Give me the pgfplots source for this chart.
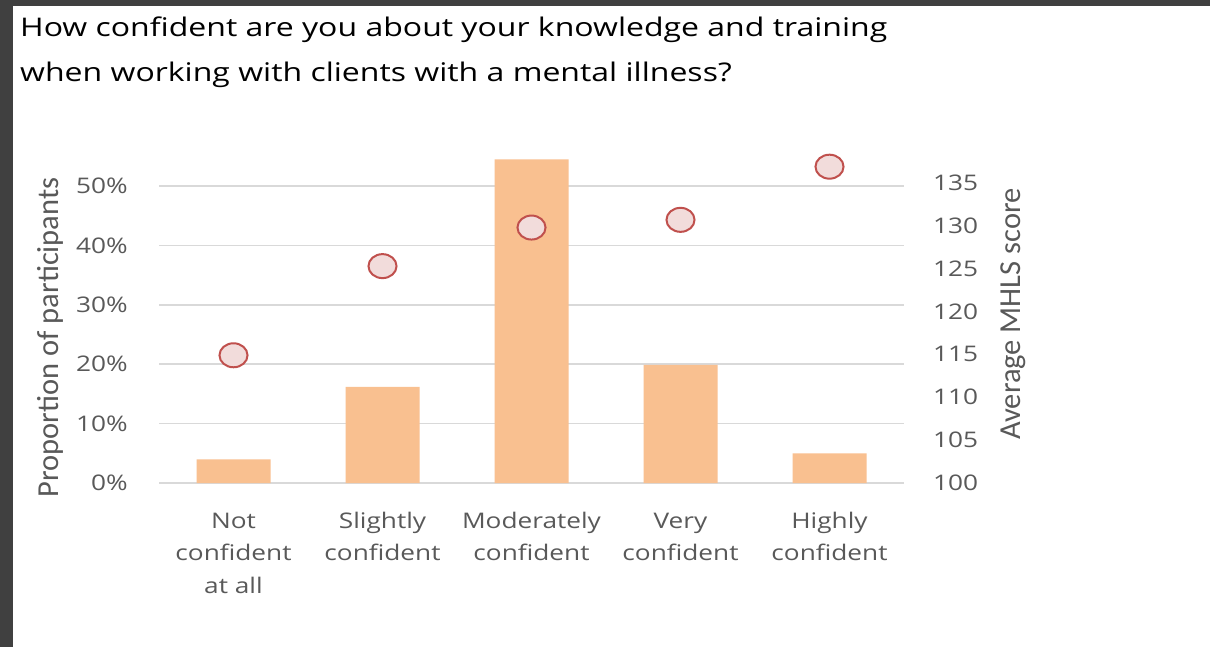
\documentclass[border=0pt]{standalone}
\usepackage{pgfplots}
\pgfplotsset{compat=1.18}
\usepackage{fontspec}
\setmainfont{Open Sans}[FakeStretch=1.22]
\newfontfamily\titlefont{Open Sans}[FakeStretch=1.245]
\newfontfamily\labfont{Carlito}
\definecolor{darkbg}{RGB}{64,64,64}
\definecolor{barc}{RGB}{249,192,144}
\definecolor{gridc}{RGB}{217,217,217}
\definecolor{tickc}{RGB}{89,89,89}
\definecolor{mkfill}{RGB}{242,220,219}
\definecolor{mkedge}{RGB}{192,80,77}
\begin{document}
\begin{tikzpicture}[x=1bp,y=1bp]
\useasboundingbox (0,0) rectangle (1210,-647);
\fill[white] (0,0) rectangle (1210,-647);
\fill[darkbg] (0,0) rectangle (1210,-6);
\fill[darkbg] (0,0) rectangle (13,-647);
\node[anchor=base west, inner sep=0, font=\titlefont\fontsize{25.7bp}{30bp}\selectfont] at (20,-37) {How confident are you about your knowledge and training};
\node[anchor=base west, inner sep=0, font=\titlefont\fontsize{25.7bp}{30bp}\selectfont] at (20,-82) {when working with clients with a mental illness?};
\begin{axis}[
  at={(159bp,-483bp)}, anchor=south west,
  width=745bp, height=332.6bp, scale only axis,
  xmin=-0.5, xmax=4.5, ymin=0, ymax=0.56,
  axis line style={draw=none}, major tick length=0,
  ytick={0,0.1,0.2,0.3,0.4,0.5},
  yticklabels={0\%,10\%,20\%,30\%,40\%,50\%},
  ymajorgrids, grid style={color=gridc, line width=1.5bp},
  xtick={0,1,2,3,4},
  xticklabels={{\rule{0pt}{17bp}Not\\confident\\at all},{\rule{0pt}{17bp}Slightly\\confident},{\rule{0pt}{17bp}Moderately\\confident},{\rule{0pt}{17bp}Very\\confident},{\rule{0pt}{17bp}Highly\\confident}},
  tick label style={font=\fontsize{21.5bp}{32.5bp}\selectfont, text=tickc},
  xticklabel style={align=center, anchor=north, inner sep=0, yshift=-28bp},
  yticklabel style={anchor=east, inner sep=0, xshift=-31bp},
  ylabel={Proportion of participants},
  ylabel style={at={(axis description cs:-0.1463,0.438)}, anchor=center, font=\labfont\fontsize{30.5bp}{31bp}\selectfont, text=tickc},
]
\addplot[ybar, bar width=74bp, fill=barc, draw=none] coordinates {(0,0.040) (1,0.162) (2,0.545) (3,0.199) (4,0.050)};
\end{axis}
\begin{axis}[
  at={(159bp,-483bp)}, anchor=south west,
  width=745bp, height=332.6bp, scale only axis,
  xmin=-0.5, xmax=4.5, ymin=100, ymax=138.8,
  axis y line*=right, hide x axis,
  axis line style={draw=none}, major tick length=0,
  ytick={100,105,110,115,120,125,130,135},
  yticklabels={100,105,110,115,120,125,130,135},
  tick label style={font=\fontsize{21.5bp}{32.5bp}\selectfont, text=tickc},
  yticklabel style={anchor=west, inner sep=0, xshift=29bp},
  ylabel={Average MHLS score},
  ylabel style={at={(axis description cs:1.1463,0.508)}, anchor=center, rotate=0, font=\labfont\fontsize{30.5bp}{31bp}\selectfont, text=tickc},
]
\addplot[only marks, mark=*, mark size=12bp, mark options={xscale=1.17, fill=mkfill, draw=mkedge, line width=2bp}] coordinates {(0,114.9) (1,125.3) (2,129.8) (3,130.7) (4,136.9)};
\end{axis}
\end{tikzpicture}
\end{document}
